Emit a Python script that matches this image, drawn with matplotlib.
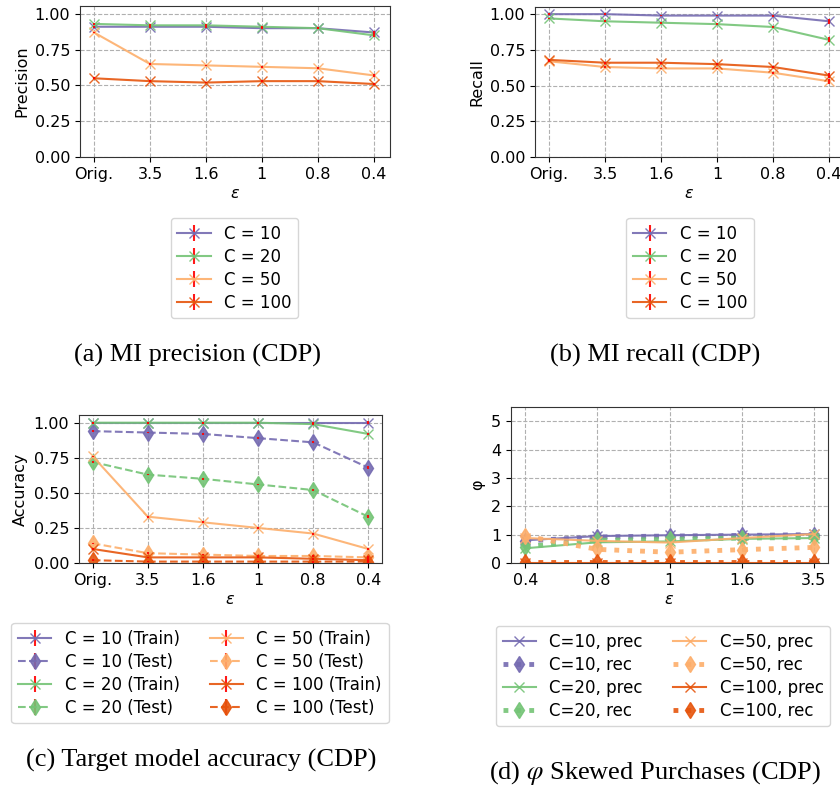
import matplotlib
matplotlib.use("Agg")
import matplotlib.pyplot as plt

# x categories
eps_labels = ["Orig.", "3.5", "1.6", "1", "0.8", "0.4"]
phi_labels = ["0.4", "0.8", "1", "1.6", "3.5"]

series_names = ["C = 10", "C = 20", "C = 50", "C = 100"]
colors = ["#756bb1", "#74c476", "#fdae6b", "#e6550d"]

# (a) MI precision
prec_c10 = [0.91, 0.91, 0.91, 0.90, 0.90, 0.87]
prec_c20 = [0.93, 0.92, 0.92, 0.91, 0.90, 0.85]
prec_c50 = [0.87, 0.65, 0.64, 0.63, 0.62, 0.57]
prec_c100 = [0.55, 0.53, 0.52, 0.53, 0.53, 0.51]
prec_err = [0.006, 0.006, 0.006, 0.006, 0.006, 0.01]

# (b) MI recall
rec_c10 = [1.00, 1.00, 0.99, 0.99, 0.99, 0.95]
rec_c20 = [0.97, 0.95, 0.94, 0.93, 0.91, 0.82]
rec_c50 = [0.67, 0.63, 0.62, 0.62, 0.59, 0.53]
rec_c100 = [0.68, 0.66, 0.66, 0.65, 0.63, 0.57]
rec_err = [0.006, 0.006, 0.006, 0.006, 0.007, 0.018]

# (c) target model accuracy
acc_train_c10 = [1.00, 1.00, 1.00, 1.00, 1.00, 1.00]
acc_test_c10 = [0.94, 0.93, 0.92, 0.89, 0.86, 0.68]
acc_train_c20 = [1.00, 1.00, 1.00, 1.00, 0.99, 0.92]
acc_test_c20 = [0.72, 0.63, 0.60, 0.56, 0.52, 0.33]
acc_train_c50 = [0.76, 0.33, 0.29, 0.25, 0.21, 0.10]
acc_test_c50 = [0.14, 0.07, 0.06, 0.05, 0.05, 0.04]
acc_train_c100 = [0.10, 0.04, 0.04, 0.04, 0.03, 0.02]
acc_test_c100 = [0.02, 0.01, 0.01, 0.01, 0.01, 0.01]
acc_err = [0.006, 0.006, 0.006, 0.006, 0.007, 0.01]

# (d) phi skewed purchases
phi_prec_c10 = [0.80, 0.95, 0.98, 1.00, 1.02]
phi_rec_c10 = [0.78, 0.92, 0.95, 0.97, 1.00]
phi_prec_c20 = [0.52, 0.73, 0.76, 0.85, 0.88]
phi_rec_c20 = [0.58, 0.80, 0.83, 0.88, 0.90]
phi_prec_c50 = [0.88, 0.78, 0.72, 0.88, 1.02]
phi_rec_c50 = [0.95, 0.48, 0.38, 0.47, 0.55]
phi_prec_c100 = [0.0, 0.0, 0.0, 0.0, 0.0]
phi_rec_c100 = [0.02, 0.02, 0.02, 0.02, 0.02]

W, H = 840, 792
TICK_FS = 11.5
LEG_FS = 12
fig = plt.figure(figsize=(W / 100, H / 100), dpi=100)


def box(left, top, right, bottom):
    return [left / W, 1 - bottom / H, (right - left) / W, (bottom - top) / H]


def style_axes(ax, labels, ylabel):
    ax.set_xticks(range(len(labels)))
    ax.set_xticklabels(labels)
    ax.set_xlabel(r"$\epsilon$", fontsize=TICK_FS, labelpad=3)
    ax.set_ylabel(ylabel, fontsize=TICK_FS)
    ax.grid(True, linestyle="--", color="#b0b0b0", linewidth=0.8)
    ax.tick_params(labelsize=TICK_FS)
    for s in ax.spines.values():
        s.set_color("#333333")


def caption(x, y, text):
    fig.text(x / W, 1 - y / H, text, ha="center", va="center", fontsize=19,
             family="Liberation Serif", math_fontfamily="stix")


def err_line(ax, x, vals, err, **kw):
    h = ax.errorbar(x, vals, yerr=err, ecolor="red", elinewidth=1.5, linewidth=1.5,
                    alpha=0.9, **kw)
    # red error ticks sit on top of the markers
    for col in h[2]:
        col.set_zorder(3)
    return h


def legend(handles, labels, anchor, loc="upper center", ncol=1):
    fig.legend(handles, labels, loc=loc, bbox_to_anchor=anchor, ncol=ncol,
               fontsize=LEG_FS, handlelength=2.0, labelspacing=0.3,
               columnspacing=1.8, borderpad=0.4, borderaxespad=0)


x6 = list(range(6))
x5 = list(range(5))

# ---- (a) precision ----
ax_a = fig.add_axes(box(80, 6, 390, 157))
handles = []
for vals, c in zip([prec_c10, prec_c20, prec_c50, prec_c100], colors):
    handles.append(err_line(ax_a, x6, vals, prec_err, color=c, marker="x", markersize=7))
ax_a.set_xlim(-0.25, 5.29)
ax_a.set_ylim(0, 1.055)
ax_a.set_yticks([0, 0.25, 0.5, 0.75, 1.0])
style_axes(ax_a, eps_labels, "Precision")
legend(handles, series_names, (234.5 / W, 1 - 218 / H))
caption(198, 355, "(a) MI precision (CDP)")

# ---- (b) recall ----
ax_b = fig.add_axes(box(535, 7, 843, 157))
handles = []
for vals, c in zip([rec_c10, rec_c20, rec_c50, rec_c100], colors):
    handles.append(err_line(ax_b, x6, vals, rec_err, color=c, marker="x", markersize=7))
ax_b.set_xlim(-0.25, 5.25)
ax_b.set_ylim(0, 1.05)
ax_b.set_yticks([0, 0.25, 0.5, 0.75, 1.0])
style_axes(ax_b, eps_labels, "Recall")
legend(handles, series_names, (690 / W, 1 - 218 / H))
caption(655, 355, "(b) MI recall (CDP)")

# ---- (c) accuracy ----
ax_c = fig.add_axes(box(79, 415, 382, 563))
acc_series = [
    (acc_train_c10, "C = 10 (Train)", colors[0], "-", "x"),
    (acc_test_c10, "C = 10 (Test)", colors[0], "--", "d"),
    (acc_train_c20, "C = 20 (Train)", colors[1], "-", "x"),
    (acc_test_c20, "C = 20 (Test)", colors[1], "--", "d"),
    (acc_train_c50, "C = 50 (Train)", colors[2], "-", "x"),
    (acc_test_c50, "C = 50 (Test)", colors[2], "--", "d"),
    (acc_train_c100, "C = 100 (Train)", colors[3], "-", "x"),
    (acc_test_c100, "C = 100 (Test)", colors[3], "--", "d"),
]
handles, labels = [], []
for vals, name, c, ls, mk in acc_series:
    h = err_line(ax_c, x6, vals, acc_err, color=c, marker=mk,
                 markersize=8 if mk == "d" else 7, linestyle=ls)
    handles.append(h)
    labels.append(name)
ax_c.set_xlim(-0.25, 5.25)
ax_c.set_ylim(0, 1.055)
ax_c.set_yticks([0, 0.25, 0.5, 0.75, 1.0])
style_axes(ax_c, eps_labels, "Accuracy")
legend(handles, labels, (200 / W, 1 - 623 / H), ncol=2)
caption(201, 760, "(c) Target model accuracy (CDP)")

# ---- (d) phi ----
ax_d = fig.add_axes(box(511, 407, 828, 563))
phi_series = [
    (phi_prec_c10, "C=10, prec", colors[0], "-", "x"),
    (phi_rec_c10, "C=10, rec", colors[0], ":", "d"),
    (phi_prec_c20, "C=20, prec", colors[1], "-", "x"),
    (phi_rec_c20, "C=20, rec", colors[1], ":", "d"),
    (phi_prec_c50, "C=50, prec", colors[2], "-", "x"),
    (phi_rec_c50, "C=50, rec", colors[2], ":", "d"),
    (phi_prec_c100, "C=100, prec", colors[3], "-", "x"),
    (phi_rec_c100, "C=100, rec", colors[3], ":", "d"),
]
handles, labels = [], []
for vals, name, c, ls, mk in phi_series:
    lw = 3.5 if ls == ":" else 1.5
    (h,) = ax_d.plot(x5, vals, color=c, marker=mk, markersize=8 if mk == "d" else 7,
                     linestyle=ls, linewidth=lw, alpha=0.9)
    handles.append(h)
    labels.append(name)
ax_d.set_xlim(-0.2, 4.2)
ax_d.set_ylim(0, 5.5)
ax_d.set_yticks([0, 1, 2, 3, 4, 5])
style_axes(ax_d, phi_labels, "φ")
legend(handles, labels, (496 / W, 1 - 626 / H), loc="upper left", ncol=2)
caption(655, 773, r"(d) $\varphi$ Skewed Purchases (CDP)")

fig.savefig("out.png", dpi=100)
